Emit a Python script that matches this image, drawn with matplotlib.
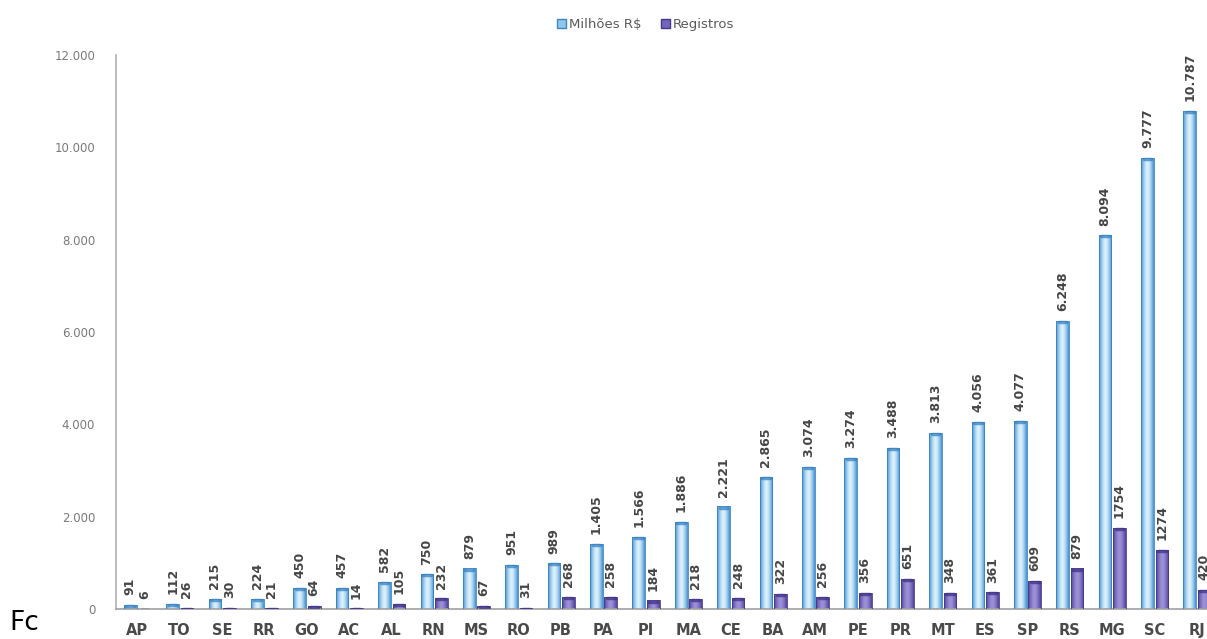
import numpy as np
import matplotlib.pyplot as plt
from matplotlib.colors import to_rgb

estados = ['AP', 'TO', 'SE', 'RR', 'GO', 'AC', 'AL', 'RN', 'MS', 'RO', 'PB', 'PA', 'PI',
           'MA', 'CE', 'BA', 'AM', 'PE', 'PR', 'MT', 'ES', 'SP', 'RS', 'MG', 'SC', 'RJ']
milhoes = [91, 112, 215, 224, 450, 457, 582, 750, 879, 951, 989, 1405, 1566,
           1886, 2221, 2865, 3074, 3274, 3488, 3813, 4056, 4077, 6248, 8094, 9777, 10787]
registros = [6, 26, 30, 21, 64, 14, 105, 232, 67, 31, 268, 258, 184,
             218, 248, 322, 256, 356, 651, 348, 361, 609, 879, 1754, 1274, 420]


def milhar(v):
    return f"{v:,}".replace(",", ".")


def cilindro(ax, bars, borda, centro, top):
    # horizontal shading so each bar looks like a tube
    t = np.linspace(-1, 1, 64)
    w = (1 - np.abs(t) ** 1.6)[None, :, None]
    e = np.array(to_rgb(borda))[None, None, :]
    c = np.array(to_rgb(centro))[None, None, :]
    img = e + (c - e) * w
    for b in bars:
        x0, y0 = b.get_x(), b.get_y()
        x1, y1 = x0 + b.get_width(), y0 + b.get_height()
        im = ax.imshow(img, extent=[x0, x1, y0, y1], aspect='auto',
                       interpolation='bicubic', zorder=2)
        im.set_clip_path(b)
        # darker rounded cap at the top
        ax.plot([x0 + b.get_width() * 0.2, x1 - b.get_width() * 0.2], [y1 - 25, y1 - 25],
                color=top, lw=2.5, solid_capstyle='round', zorder=3, alpha=0.7)


fig = plt.figure(figsize=(12.07, 6.39), dpi=100)
ax = fig.add_axes([0.0961, 0.047, 0.9039, 0.867])

x = np.arange(len(estados))
w = 0.3
b1 = ax.bar(x - 0.165, milhoes, w, color='none', edgecolor='#3784c4', linewidth=0.6,
            zorder=4, label='Milhões R$')
b2 = ax.bar(x + 0.175, registros, w, color='none', edgecolor='#45388a', linewidth=0.6,
            zorder=4, label='Registros')
cilindro(ax, b1, '#3f8dd0', '#dcf2fb', '#2f7bbf')
cilindro(ax, b2, '#4d3e98', '#9d92d8', '#3a2c80')

for xi, v in zip(x - 0.165, milhoes):
    ax.annotate(milhar(v), (xi, v), xytext=(0, 7), textcoords='offset points',
                rotation=90, ha='center', va='bottom', fontsize=9,
                fontweight='bold', color='#454545')
for xi, v in zip(x + 0.175, registros):
    ax.annotate(str(v), (xi, v), xytext=(0, 7), textcoords='offset points',
                rotation=90, ha='center', va='bottom', fontsize=9,
                fontweight='bold', color='#454545')

ax.set_xlim(-0.5, 25.24)
ax.set_ylim(0, 12000)
ax.set_yticks(range(0, 12001, 2000))
ax.set_yticklabels([milhar(v) for v in range(0, 12001, 2000)])
ax.set_xticks(x)
ax.set_xticklabels(estados, fontsize=10.5, fontweight='bold', color='#4a4a4a')
ax.tick_params(axis='x', length=0, pad=10)
ax.tick_params(axis='y', length=0, pad=15, labelsize=8.5, labelcolor='#7a7a7a')
for s in ['top', 'right']:
    ax.spines[s].set_visible(False)
ax.spines['left'].set_color('#b0b0b0')
ax.spines['bottom'].set_color('#a0a0a0')
ax.spines['left'].set_linewidth(1.2)
ax.spines['bottom'].set_linewidth(1.2)

h1 = plt.Rectangle((0, 0), 1, 1, facecolor='#8ec8ec', edgecolor='#3d86c0')
h2 = plt.Rectangle((0, 0), 1, 1, facecolor='#7466bf', edgecolor='#45388a')
fig.legend([h1, h2], ['Milhões R$', 'Registros'], loc='center', bbox_to_anchor=(0.535, 0.962),
           ncol=2, frameon=False, fontsize=9.5, handlelength=0.7, handleheight=0.7,
           handletextpad=0.2, columnspacing=1.5, labelcolor='#5a5a5a')

fig.text(0.008, 0.005, 'Fc', fontsize=19, color='black', va='bottom')

fig.savefig('out.png', dpi=100)
